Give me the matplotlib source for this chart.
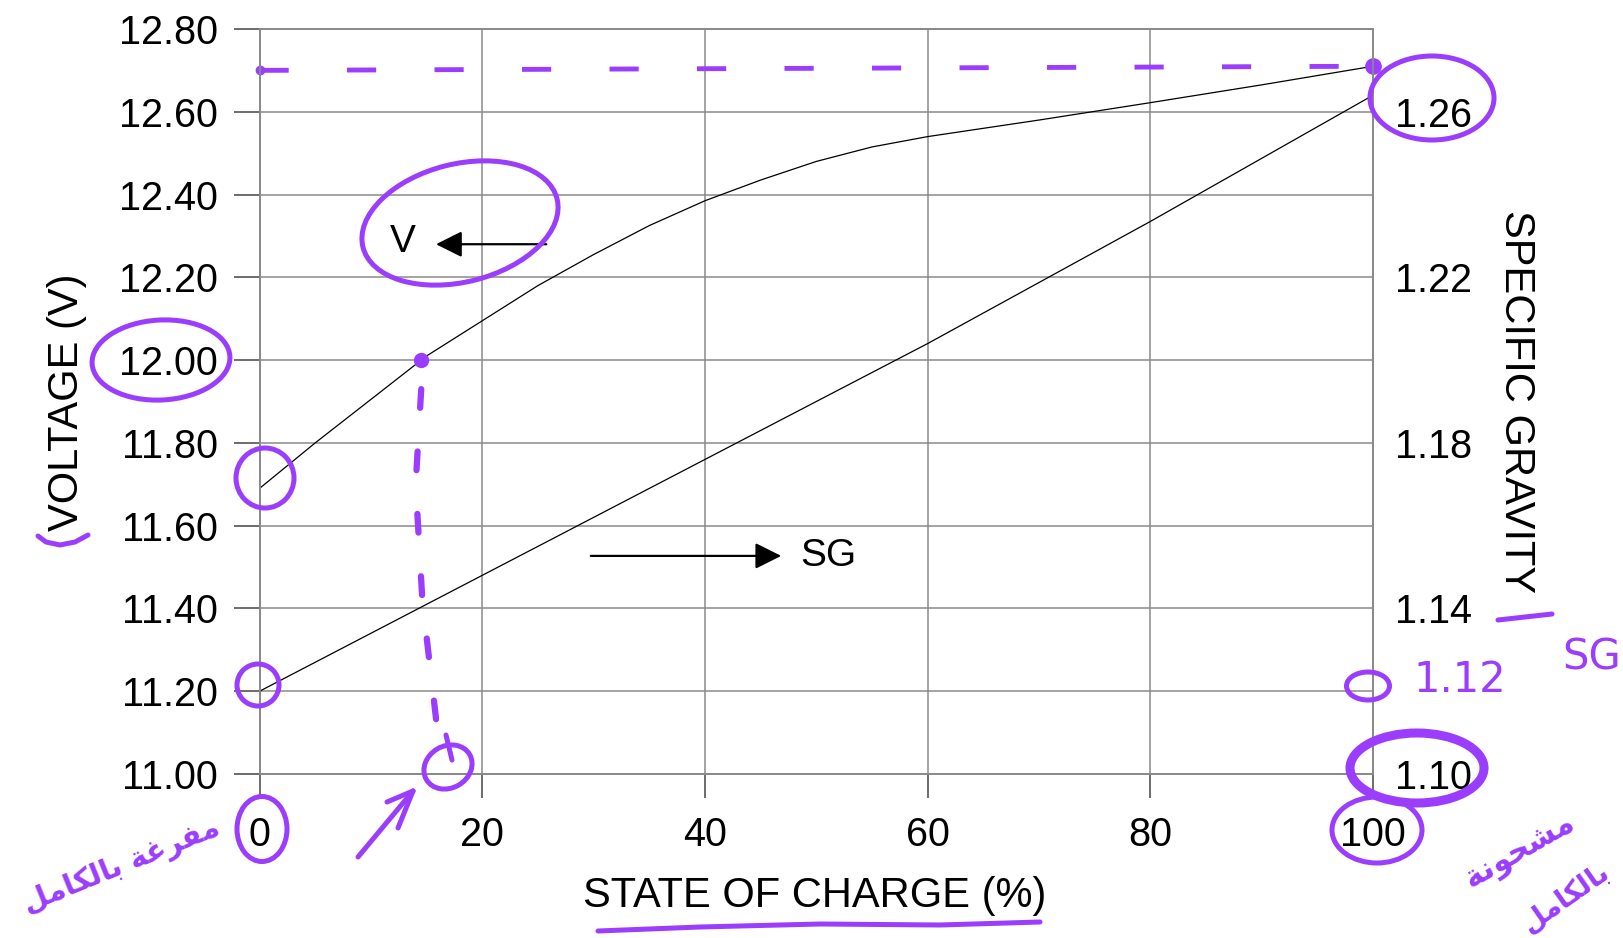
import numpy as np
import matplotlib
matplotlib.use("Agg")
import matplotlib.pyplot as plt
from matplotlib.patches import Ellipse

# battery state of charge vs open-circuit voltage and specific gravity
soc = [0, 5, 10, 15, 20, 25, 30, 35, 40, 45, 50, 55, 60, 70, 80, 90, 100]
voltage = [11.69, 11.80, 11.905, 12.01, 12.095, 12.18, 12.255, 12.325, 12.385,
           12.435, 12.48, 12.515, 12.54, 12.58, 12.622, 12.665, 12.71]
sg_soc = [0, 20, 40, 60, 80, 100]
sg = [1.12, 1.148, 1.176, 1.204, 1.2335, 1.264]

soc_ticks = [0, 20, 40, 60, 80, 100]
volt_ticks = [11.00, 11.20, 11.40, 11.60, 11.80, 12.00, 12.20, 12.40, 12.60, 12.80]
sg_ticks = [1.10, 1.14, 1.18, 1.22, 1.26]

# hand notes (Arabic, shaped forms in logical order, reversed for display)
note_empty = [[0xFEE3, 0xFED4, 0xFEAE, 0xFECF, 0xFE94],
              [0xFE91, 0xFE8E, 0xFEDF, 0xFEDC, 0xFE8E, 0xFEE3, 0xFEDE]]
note_full_1 = [[0xFEE3, 0xFEB8, 0xFEA4, 0xFEEE, 0xFEE7, 0xFE94]]
note_full_2 = [[0xFE91, 0xFE8E, 0xFEDF, 0xFEDC, 0xFE8E, 0xFEE3, 0xFEDE]]


def rtl(words):
    return " ".join("".join(map(chr, w))[::-1] for w in words[::-1])


plt.rcParams["font.family"] = ["Liberation Sans", "DejaVu Sans"]
grid_col = "#8a8a8a"
pen = "#9a3dfc"

fig = plt.figure(figsize=(16.23, 9.38), dpi=100)
ax = fig.add_axes([0.1599, 0.1748, 0.6861, 0.7943])
ax2 = ax.twinx()

ax.plot(soc, voltage, color="black", lw=0.9)
ax2.plot(sg_soc, sg, color="black", lw=0.9)

ax.set_xlim(0, 100)
ax.set_ylim(11.0, 12.8)
ax2.set_ylim(1.10, 1.28)

ax.set_xticks(soc_ticks)
ax.set_yticks(volt_ticks)
ax.set_yticklabels([f"{v:.2f}" for v in volt_ticks])
ax2.set_yticks(sg_ticks)
ax2.set_yticklabels([f"{v:.2f}" for v in sg_ticks])

ax.grid(True, color=grid_col, lw=1.1)
ax.tick_params(axis="y", direction="out", length=19, width=1.1, color="#444", pad=11, labelsize=28.5)
ax.tick_params(axis="x", direction="out", length=17, width=1.1, color="#444", pad=13, labelsize=28.5)
ax2.tick_params(axis="y", length=0, pad=16, labelsize=28.5)
for a in (ax, ax2):
    for s in a.spines.values():
        s.set_color(grid_col)
        s.set_linewidth(1.3)

ax.set_xlabel("STATE OF CHARGE (%)", fontsize=30, va="center")
ax.xaxis.set_label_coords(0.499, -0.164)
ax.set_ylabel("VOLTAGE (V)", fontsize=30, va="center")
ax.yaxis.set_label_coords(-0.173, 0.499)
ax2.set_ylabel("SPECIFIC GRAVITY", fontsize=30, rotation=-90, va="center")
ax2.yaxis.set_label_coords(1.128, 0.5)

# curve labels
ax.annotate("", xy=(15.6, 12.28), xytext=(26.0, 12.28),
            arrowprops=dict(arrowstyle="-|>", color="black", lw=1.6, mutation_scale=40))
ax.text(12.9, 12.285, "V", fontsize=28, ha="center", va="center")
ax.annotate("", xy=(47.1, 11.527), xytext=(29.5, 11.527),
            arrowprops=dict(arrowstyle="-|>", color="black", lw=1.6, mutation_scale=40))
ax.text(48.6, 11.527, "SG", fontsize=28, ha="left", va="center")

# pen marks tied to the data
v_top = voltage[-1]
ax.plot([0, 100], [v_top - 0.01, v_top], color=pen, lw=3.5, dashes=(6, 12), clip_on=False, zorder=5)
ax.plot([0], [v_top - 0.01], "o", color=pen, ms=6, clip_on=False, zorder=5)
ax.plot([100], [v_top], "o", color=pen, ms=11, clip_on=False, zorder=5)
v_mark = 12.0
soc_mark = np.interp(v_mark, voltage, soc)
ax.plot([soc_mark], [v_mark], "o", color=pen, ms=10, zorder=5)
ax.plot([soc_mark, soc_mark - 0.5, soc_mark + 0.1, soc_mark + 1.6],
        [v_mark - 0.07, 11.70, 11.42, 11.07], color=pen, lw=4.5, dashes=(3, 7),
        dash_capstyle="round", zorder=5)

# free-hand marks over the whole figure, in pixels
ov = fig.add_axes([0, 0, 1, 1])
ov.set_xlim(0, 1623)
ov.set_ylim(938, 0)
ov.axis("off")
ov.set_zorder(10)
ov.patch.set_alpha(0)

rings = [
    # (x, y, w, h, angle, lw)
    (1432, 98, 124, 84, 0, 3.6),
    (460, 223, 200, 118, -14, 3.6),
    (161, 360, 138, 80, -3, 3.6),
    (265, 478, 58, 60, 0, 3.6),
    (258, 685, 42, 42, 0, 3.6),
    (448, 767, 50, 42, -30, 3.6),
    (262, 829, 50, 65, 0, 3.6),
    (1417, 768, 134, 70, 0, 6.5),
    (1377, 830, 90, 66, 0, 3.6),
    (1368, 686, 43, 28, 0, 3.6),
]
for x, y, w, h, ang, lw in rings:
    ov.add_patch(Ellipse((x, y), w, h, angle=ang, fill=False, ec=pen, lw=lw))

strokes = [
    [(38, 536), (46, 542), (60, 545), (75, 542), (88, 535)],
    [(446, 735), (452, 760)],
    [(358, 857), (413, 791)],
    [(413, 791), (387, 802)],
    [(413, 791), (398, 828)],
    [(1498, 620), (1552, 614)],
    [(598, 931), (700, 927), (820, 924), (940, 925), (1040, 922)],
]
for pts in strokes:
    xs, ys = zip(*pts)
    ov.plot(xs, ys, color=pen, lw=3.6, solid_capstyle="round")

ov.text(1460, 680, "1.12", color=pen, fontsize=30, ha="center", va="center", family=["DejaVu Sans"])
ov.text(1592, 657, "SG", color=pen, fontsize=30, ha="center", va="center", family=["DejaVu Sans"])
ov.text(122, 866, rtl(note_empty), color=pen, fontsize=21, fontweight="bold",
        rotation=22, ha="center", va="center", family=["DejaVu Sans"])
ov.text(1520, 852, rtl(note_full_1), color=pen, fontsize=22, fontweight="bold",
        rotation=30, ha="center", va="center", family=["DejaVu Sans"])
ov.text(1565, 898, rtl(note_full_2), color=pen, fontsize=20, fontweight="bold",
        rotation=35, ha="center", va="center", family=["DejaVu Sans"])

fig.savefig("out.png", dpi=100)
